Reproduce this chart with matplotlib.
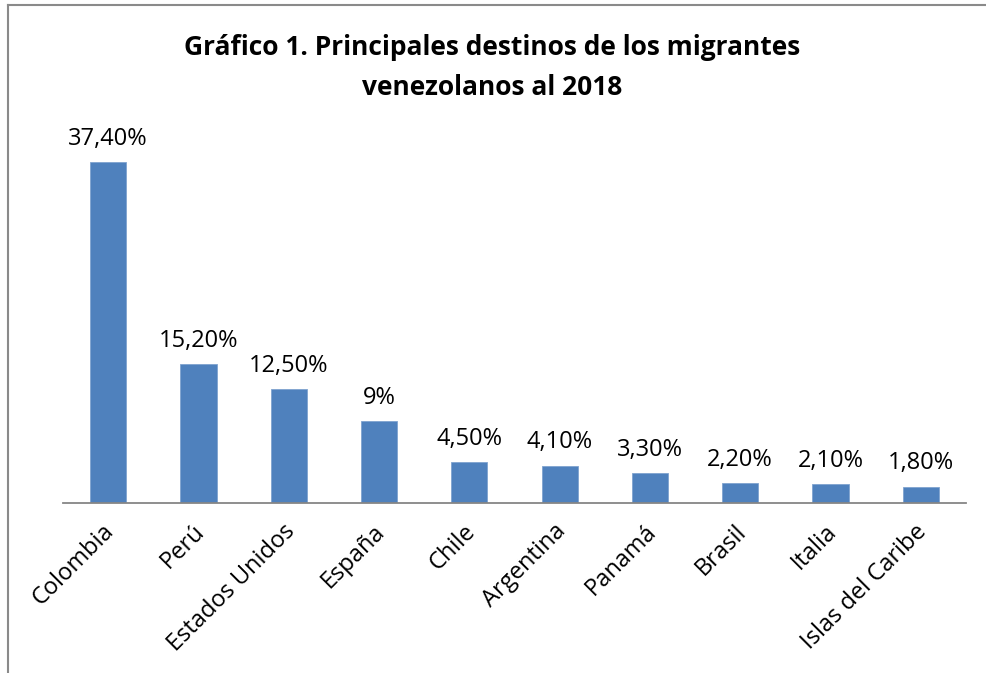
import matplotlib
matplotlib.use("Agg")
import matplotlib.pyplot as plt
from matplotlib.lines import Line2D
import matplotlib.transforms as mtransforms

plt.rcParams["font.family"] = ["Open Sans", "DejaVu Sans"]

paises = ["Colombia", "Perú", "Estados Unidos", "España", "Chile",
          "Argentina", "Panamá", "Brasil", "Italia", "Islas del Caribe"]
porcentajes = [37.4, 15.2, 12.5, 9.0, 4.5, 4.1, 3.3, 2.2, 2.1, 1.8]
etiquetas = ["37,40%", "15,20%", "12,50%", "9%", "4,50%",
             "4,10%", "3,30%", "2,20%", "2,10%", "1,80%"]

fig = plt.figure(figsize=(9.86, 6.73), dpi=100)
ax = fig.add_axes([0.0639, 0.2526, 0.9158, 0.5424])

x = range(len(paises))
ax.bar(x, porcentajes, width=0.4, color="#4F81BD", edgecolor="#7FA3CF", linewidth=0.6)

for xi, v, lab in zip(x, porcentajes, etiquetas):
    ax.annotate(lab, (xi, v), xytext=(0, 8), textcoords="offset points",
                ha="center", va="bottom", fontsize=17)

ax.set_xlim(-0.5, len(paises) - 0.5)
ax.set_ylim(0, 40)
ax.set_yticks([])
for s in ["top", "right", "left"]:
    ax.spines[s].set_visible(False)
ax.spines["bottom"].set_color("#868686")
ax.spines["bottom"].set_linewidth(1.3)

ax.set_xticks(list(x))
ax.set_xticklabels(paises, rotation=45, ha="right", rotation_mode="anchor", fontsize=17)
ax.tick_params(axis="x", length=0, pad=12)
offset = mtransforms.ScaledTranslation(-6 / 100, 0, fig.dpi_scale_trans)
for t in ax.get_xticklabels():
    t.set_transform(t.get_transform() + offset)

fig.text(0.4990, 0.8997, "Gráfico 1. Principales destinos de los migrantes\nvenezolanos al 2018",
         ha="center", va="center", fontsize=19, fontweight="bold", linespacing=1.6)

# marco del gráfico (solo se ven los bordes izquierdo y superior)
fig.add_artist(Line2D([8 / 986, 8 / 986], [0, 1 - 5 / 673], color="#8a8a8a", lw=1.5,
                      transform=fig.transFigure))
fig.add_artist(Line2D([8 / 986, 1], [1 - 5 / 673, 1 - 5 / 673], color="#8a8a8a", lw=1.5,
                      transform=fig.transFigure))

fig.savefig("out.png", dpi=100)
